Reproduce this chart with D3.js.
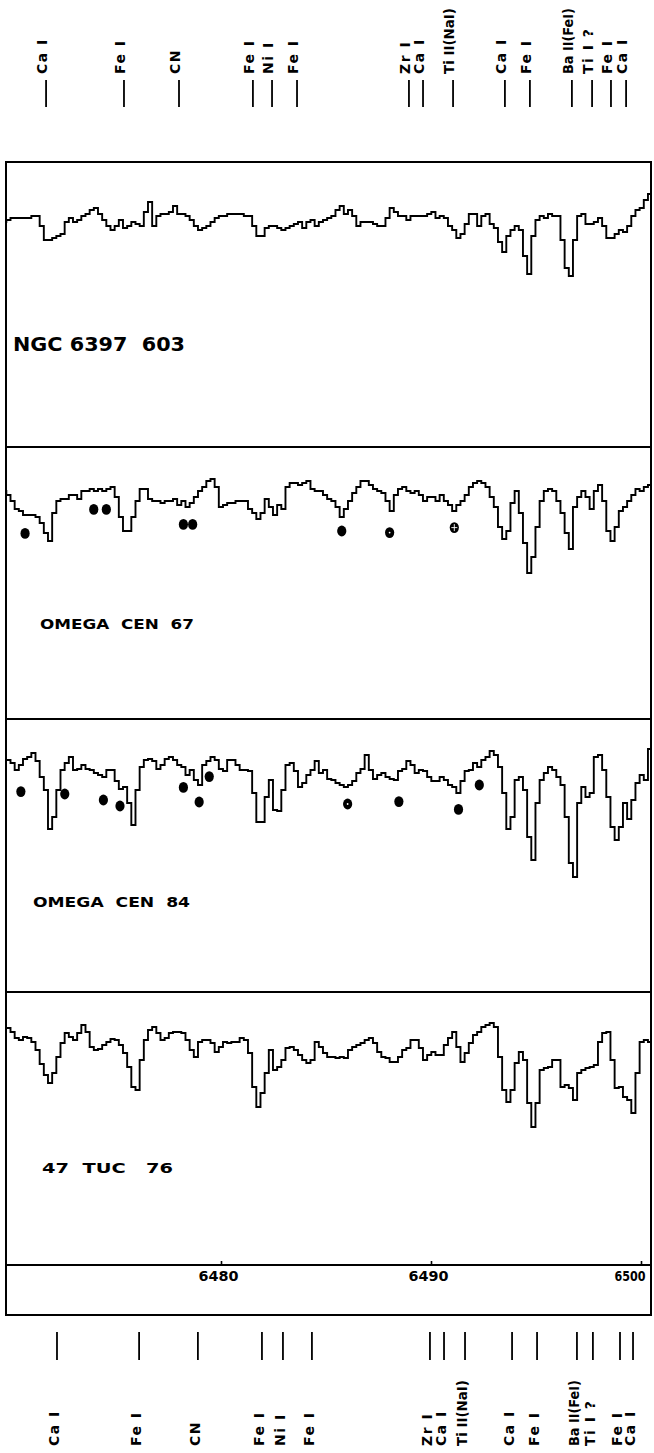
<!DOCTYPE html>
<html><head><meta charset="utf-8">
<script src="https://cdn.jsdelivr.net/npm/d3@7"></script>
<style>body{margin:0;background:#fff;} svg{display:block;}</style>
</head><body>
<svg id="chart" width="654" height="1453"></svg>
<script>
// ---------------- DATA ----------------
// spectra: relative intensity (continuum ~100), uniform wavelength grid
const wlStart = 6469.48;   // Angstrom, first sample
const wlStep = 0.1984;     // Angstrom per sample

const panelNames = ["NGC 6397  603", "OMEGA  CEN  67", "OMEGA  CEN  84", "47  TUC   76"];

const fluxNGC6397_603 = [
 90,90,91,92,92,92,92,92,93,93,
 88,81,81,82,83,84,90,92,90,91,
 93,94,96,97,94,91,88,86,88,91,
 87,88,90,89,88,95,100,88,93,94,
 94,95,98,94,94,93,91,88,86,87,
 88,90,92,93,93,94,94,94,94,93,
 93,88,83,83,87,88,88,87,86,87,
 88,89,90,87,90,91,88,90,91,92,
 93,96,98,94,96,93,88,90,90,90,
 89,88,88,92,97,95,93,93,91,93,
 93,93,93,94,95,92,93,92,88,86,
 82,84,89,94,94,88,93,94,89,87,
 80,75,83,86,88,86,73,64,83,91,
 93,92,94,93,93,81,67,63,81,93,
 94,89,89,90,92,88,82,82,84,86,
 85,88,93,96,97,101,104];

const fluxOmegaCen67 = [
 98,98,96,93,89,88,86,86,86,85,
 82,77,73,87,93,94,94,96,96,94,
 98,98,99,98,99,98,99,100,95,85,
 78,78,85,93,99,99,94,93,93,92,
 93,93,94,91,93,90,92,95,98,100,
 103,104,100,90,91,92,92,93,93,93,
 89,87,84,87,94,90,86,91,89,100,
 102,102,101,102,103,99,98,98,96,94,
 93,90,85,89,93,97,100,103,103,101,
 99,98,97,93,88,96,99,100,98,97,
 98,96,93,95,95,93,96,93,91,88,
 91,93,96,100,102,103,102,100,95,90,
 80,74,78,92,98,87,72,57,65,80,
 93,98,99,98,93,87,77,69,90,95,
 98,95,89,98,101,93,78,73,80,88,
 90,93,96,99,98,100,101];

const fluxOmegaCen84 = [
 99.5,99.5,99.5,98,94.5,97,100,101,103,99,
 91,84.5,65,71,84.5,94.5,98,101,94.5,95,
 97,95,94.5,93,92,91,94.5,94.5,89,85,
 86,78,67,84.5,96,99.5,100,99,95,97,
 100,101,99.5,97,96,92,94.5,89.5,87,97,
 99,101,99.5,95,94,99.5,99.5,97,94.5,94.5,
 94,83,68.5,68.5,81,89.5,74.5,74,84.5,97,
 98,94,86,88,92,94.5,99,93,94.5,90,
 89.5,88,87,86,87,89,93,95,102,94.5,
 90,92,93,91,90,89.5,94,95,99,97,
 93,94.5,94,91,89,89,91,89.5,87,86,
 83,89,94,94.5,98,96,99.5,101,104,102,
 96,83,65,71,89.5,91,84.5,61,49.5,78,
 89.5,93,96,94.5,91,87,71,48,41,78,
 86,81,83,101,102,94.5,81,66,59.5,66,
 78,70,79.5,88,92,89.5,105];

const fluxTuc47_76 = [
 102,102,102,100,97,96,97.5,97,95,91,
 84,78.5,74.5,79.5,87.5,94.5,99.5,97.5,96,99.5,
 103.5,100,92.5,91,91.5,93.5,95,96.5,96,93.5,
 89.5,82.5,72.5,71,86,96,101,102.5,99.5,96,
 97,99.5,100,100,99.5,96,91,87.5,95,96,
 96,94.5,90,92.5,95,94.5,95,95,97,96,
 89.5,72.5,62.5,69.5,79.5,91,81,82.5,86,92,
 92.5,91,88.5,86,84.5,86,95,92.5,89.5,87.5,
 87.5,87,87.5,87,91,92.5,93.5,94.5,96,97,
 94.5,90,87.5,87,85,85,87.5,91,92,96,
 96,92,86,88.5,90,88.5,88.5,93.5,97,100,
 92.5,85,89.5,94.5,98.5,100,102.5,103.5,104.5,102.5,
 87.5,71,65,71,84.5,90,86,64.5,52.5,64.5,
 81,82,82.5,86,86,72.5,73.5,72,66,79.5,
 81,82,82.5,83.5,95,99.5,100,86,72,72.5,
 67.5,66,59.5,79.5,95,96,95];

// marked features (dots): wavelength, intensity, kind (o filled, d dot-centre, x cross)
const dots67Wl   = [6470.67, 6473.94, 6474.54, 6478.21, 6478.65, 6485.75, 6488.03, 6491.11];
const dots67Flux = [76.8, 88.8, 88.8, 81.3, 81.3, 78.0, 77.2, 79.7];
const dots67Kind = ["o","o","o","o","o","o","d","x"];

const dots84Wl   = [6470.47, 6472.56, 6474.40, 6475.19, 6478.21, 6478.96, 6479.44, 6486.03, 6488.47, 6491.31, 6492.30];
const dots84Flux = [83.7, 82.5, 79.5, 76.5, 85.8, 78.5, 91.2, 77.5, 78.7, 74.8, 87.0];
const dots84Kind = ["o","o","o","o","o","o","o","d","o","o","o"];

// line identifications
const lineLabels = ["Ca I","Fe I","CN","Fe I","Ni I","Fe I","Zr I","Ca I","Ti II(NaI)","Ca I","Fe I","Ba II(FeI)","Ti I ?","Fe I","Ca I"];
const topLineWl    = [6471.67, 6475.38, 6478.00, 6481.52, 6482.43, 6483.62, 6488.95, 6489.62, 6491.05, 6493.52, 6494.71, 6496.71, 6497.67, 6498.57, 6499.29];
const bottomLineWl = [6472.19, 6476.10, 6478.90, 6481.95, 6482.95, 6484.33, 6489.95, 6490.62, 6491.62, 6493.86, 6495.05, 6496.95, 6497.71, 6499.00, 6499.62];

const axisTicks = [6480, 6490, 6500];

// ---------------- LAYOUT ----------------
const FONT = "'DejaVu Sans', 'Liberation Sans', sans-serif";
const svg = d3.select("#chart");
const frame = {left: 6, right: 651, top: 162, axisY: 1265, bottom: 1315};
const panelTops = [162, 447, 719, 992];
const labelPos = [
  {x: 13, y: 351, len: 172, size: 19},
  {x: 40, y: 629, len: 154, size: 14},
  {x: 33, y: 907, len: 157, size: 14},
  {x: 42, y: 1173, len: 131, size: 14}
];

const x = d3.scaleLinear().domain([6470, 6500]).range([11, 641]);

svg.append("rect").attr("width", 654).attr("height", 1453).attr("fill", "#fff");

svg.append("defs").append("clipPath").attr("id", "clipFrame")
  .append("rect").attr("x", frame.left).attr("y", frame.top)
  .attr("width", frame.right - frame.left).attr("height", frame.axisY - frame.top);

// frame
const fg = svg.append("g").attr("stroke", "#000").attr("stroke-width", 2).attr("fill", "none");
fg.append("rect").attr("x", frame.left).attr("y", frame.top)
  .attr("width", frame.right - frame.left).attr("height", frame.bottom - frame.top);
panelTops.slice(1).concat([frame.axisY]).forEach(yy => {
  fg.append("line").attr("x1", frame.left).attr("x2", frame.right).attr("y1", yy).attr("y2", yy);
});

// spectra
const spectra = [fluxNGC6397_603, fluxOmegaCen67, fluxOmegaCen84, fluxTuc47_76];
const dotSets = [null,
  {wl: dots67Wl, f: dots67Flux, k: dots67Kind},
  {wl: dots84Wl, f: dots84Flux, k: dots84Kind},
  null];

spectra.forEach((flux, p) => {
  const top = panelTops[p];
  const y = d3.scaleLinear().domain([100, 0]).range([top + 40, top + 240]);
  const line = d3.line()
    .x((d, i) => x(wlStart + i * wlStep))
    .y(d => y(d))
    .curve(d3.curveStep);
  svg.append("path").datum(flux)
    .attr("clip-path", "url(#clipFrame)")
    .attr("d", line)
    .attr("fill", "none").attr("stroke", "#000")
    .attr("stroke-width", 1.9).attr("stroke-linejoin", "miter");

  const lp = labelPos[p];
  svg.append("text").attr("x", lp.x).attr("y", lp.y)
    .attr("font-family", FONT).attr("font-weight", "bold")
    .attr("font-size", lp.size)
    .attr("textLength", lp.len).attr("lengthAdjust", "spacingAndGlyphs")
    .attr("xml:space", "preserve")
    .text(panelNames[p]);

  const ds = dotSets[p];
  if (ds) {
    const g = svg.append("g");
    ds.wl.forEach((w, i) => {
      const cx = x(w), cy = y(ds.f[i]);
      g.append("ellipse").attr("cx", cx).attr("cy", cy).attr("rx", 4.6).attr("ry", 5.4).attr("fill", "#000");
      if (ds.k[i] === "d") {
        g.append("circle").attr("cx", cx).attr("cy", cy).attr("r", 0.9).attr("fill", "#fff");
      } else if (ds.k[i] === "x") {
        g.append("line").attr("x1", cx - 3).attr("x2", cx + 3).attr("y1", cy).attr("y2", cy).attr("stroke", "#fff").attr("stroke-width", 0.9);
        g.append("line").attr("x1", cx).attr("x2", cx).attr("y1", cy - 3.5).attr("y2", cy + 3.5).attr("stroke", "#fff").attr("stroke-width", 0.9);
      }
    });
  }
});

// wavelength axis
const axis = d3.axisBottom(x).tickValues(axisTicks)
  .tickSizeInner(-4).tickSizeOuter(0).tickPadding(6).tickFormat(d3.format("d"));
const ag = svg.append("g").attr("transform", `translate(0,${frame.axisY})`).call(axis);
ag.select(".domain").remove();
ag.selectAll(".tick line").attr("stroke", "#000").attr("stroke-width", 1.6);
ag.selectAll(".tick text")
  .attr("font-family", FONT).attr("font-weight", "bold").attr("font-size", 14)
  .attr("fill", "#000")
  .attr("text-anchor", d => d === 6500 ? "end" : "middle")
  .attr("dx", d => d === 6500 ? 4 : -3)
  .attr("textLength", d => d === 6500 ? 31 : 40)
  .attr("lengthAdjust", "spacingAndGlyphs");

// line identifications (rotated labels)
function idLabel(g, xx, yBase, label) {
  const t = g.append("text").attr("transform", `translate(${xx},${yBase}) rotate(-90)`)
    .attr("dy", "0.36em").attr("text-anchor", "start")
    .attr("font-family", FONT).attr("font-weight", "bold").attr("font-size", 14)
    .attr("letter-spacing", label.length > 6 ? 0 : 1.5)
    .text(label);
  if (label.length > 6) t.attr("textLength", 66).attr("lengthAdjust", "spacingAndGlyphs");
}

const tg = svg.append("g");
topLineWl.forEach((w, i) => {
  const xx = x(w);
  tg.append("line").attr("x1", xx).attr("x2", xx).attr("y1", 80).attr("y2", 107)
    .attr("stroke", "#000").attr("stroke-width", 1.8);
  idLabel(tg, xx - 4, 74, lineLabels[i]);
});

const bg = svg.append("g");
bottomLineWl.forEach((w, i) => {
  const xx = x(w);
  bg.append("line").attr("x1", xx).attr("x2", xx).attr("y1", 1332).attr("y2", 1360)
    .attr("stroke", "#000").attr("stroke-width", 1.8);
  idLabel(bg, xx - 3, 1446, lineLabels[i]);
});
</script>
</body></html>
